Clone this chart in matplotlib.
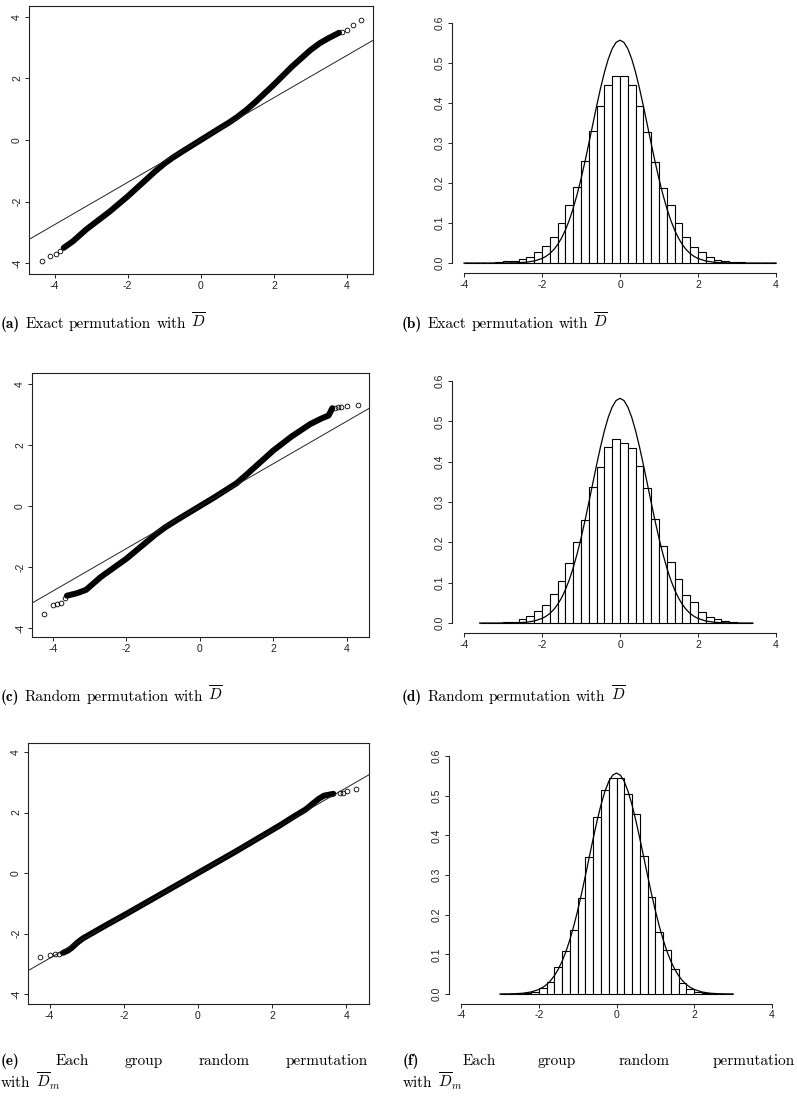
import matplotlib
matplotlib.use('Agg')
import matplotlib.pyplot as plt
import numpy as np
from matplotlib.font_manager import FontProperties

# --- R 스타일 기본 설정 ---
plt.rcParams['axes.unicode_minus'] = False
plt.rcParams['mathtext.fontset'] = 'cm'
plt.rcParams['font.family'] = ['Liberation Sans', 'DejaVu Sans']

W, H = 797, 1098

# --- 1. QQ plot 데이터 ---
# (a) exact permutation
qa_x = [-3.75, -3.5, -3.13, -2.5, -2.0, -1.5, -1.25, -1.0, -0.75, -0.5, 0.0,
        0.5, 0.75, 1.0, 1.25, 1.5, 2.0, 2.5, 3.0, 3.25, 3.5, 3.78]
qa_y = [-3.50, -3.29, -2.90, -2.33, -1.83, -1.29, -1.02, -0.77, -0.56, -0.37, 0.0,
        0.37, 0.55, 0.75, 0.98, 1.24, 1.80, 2.39, 2.92, 3.14, 3.31, 3.48]
qa_tail_x = [-4.35, -4.12, -3.97, -3.84, 3.87, 4.0, 4.16, 4.39]
qa_tail_y = [-3.94, -3.77, -3.69, -3.59, 3.52, 3.57, 3.74, 3.88]
qa_slope = 0.687

# (c) random permutation
qc_x = [-3.62, -3.35, -3.1, -2.9, -2.7, -2.0, -1.5, -1.2, -0.95, -0.7, -0.4, 0.0,
        0.4, 0.7, 1.0, 1.25, 1.5, 2.0, 2.5, 3.0, 3.3, 3.5, 3.56, 3.6]
qc_y = [-2.93, -2.85, -2.74, -2.53, -2.32, -1.72, -1.22, -0.92, -0.70, -0.51, -0.29, 0.0,
        0.29, 0.52, 0.75, 1.01, 1.28, 1.82, 2.28, 2.68, 2.86, 2.96, 3.10, 3.20]
qc_tail_x = [-4.24, -4.0, -3.88, -3.77, -3.68, 3.68, 3.76, 3.84, 4.0, 4.3]
qc_tail_y = [-3.54, -3.22, -3.19, -3.17, -3.0, 3.21, 3.23, 3.24, 3.27, 3.31]
qc_slope = 0.694

# (e) each group random permutation
qe_x = [-3.64, -3.5, -3.4, -3.25, -3.1, -2.5, -2.0, -1.0, 0.0, 1.0, 1.8, 2.2,
        2.6, 2.9, 3.1, 3.25, 3.4, 3.65]
qe_y = [-2.64, -2.56, -2.47, -2.30, -2.16, -1.74, -1.40, -0.70, 0.0, 0.70, 1.28, 1.57,
        1.88, 2.10, 2.30, 2.45, 2.56, 2.62]
qe_tail_x = [-4.25, -3.98, -3.86, -3.74, 3.82, 3.92, 4.03, 4.27]
qe_tail_y = [-2.79, -2.71, -2.69, -2.67, 2.64, 2.66, 2.70, 2.78]
qe_slope = 0.705

# --- 2. 히스토그램 데이터 (bin 폭 0.2) ---
bin_width = 0.2
hb_start = -4.0
hb_heights = [0.0005, 0.0005, 0.001, 0.001, 0.002, 0.004, 0.006, 0.010, 0.015, 0.027,
              0.042, 0.065, 0.100, 0.144, 0.190, 0.254, 0.330, 0.393, 0.445, 0.468,
              0.468, 0.445, 0.393, 0.328, 0.253, 0.188, 0.144, 0.100, 0.064, 0.041,
              0.027, 0.015, 0.008, 0.005, 0.003, 0.002, 0.001, 0.001, 0.0005, 0.0005]
hd_start = -3.6
hd_heights = [0.001, 0.001, 0.001, 0.002, 0.003, 0.010, 0.017, 0.031, 0.045, 0.071,
              0.105, 0.148, 0.200, 0.256, 0.338, 0.387, 0.437, 0.455,
              0.447, 0.435, 0.390, 0.334, 0.259, 0.190, 0.152, 0.110, 0.069, 0.051,
              0.028, 0.014, 0.009, 0.004, 0.002, 0.001, 0.001]
hf_start = -3.0
hf_heights = [0.0005, 0.001, 0.001, 0.002, 0.006, 0.014, 0.031, 0.067, 0.108, 0.161,
              0.243, 0.346, 0.447, 0.514, 0.544, 0.545, 0.504, 0.454, 0.349, 0.245,
              0.157, 0.111, 0.064, 0.027, 0.013, 0.006, 0.002, 0.001, 0.001, 0.0005]

# 정규분포 곡선 (그림에서 읽은 점)
curve_x = [-4.0, -3.6, -3.2, -3.0, -2.8, -2.6, -2.4, -2.2, -2.0, -1.9, -1.8, -1.7, -1.6, -1.5,
           -1.4, -1.3, -1.2, -1.1, -1.0, -0.9, -0.8, -0.7, -0.6, -0.5, -0.4, -0.3, -0.2, -0.1,
           0.0, 0.1, 0.2, 0.3, 0.4, 0.5, 0.6, 0.7, 0.8, 0.9, 1.0, 1.1, 1.2, 1.3, 1.4, 1.5,
           1.6, 1.7, 1.8, 1.9, 2.0, 2.2, 2.4, 2.6, 2.8, 3.0, 3.2, 3.4, 3.6, 4.0]
curve_y = [0.0, 0.0, 0.0, 0.0001, 0.0003, 0.0008, 0.0020, 0.0050, 0.0113, 0.0165, 0.0236,
           0.0332, 0.0459, 0.0621, 0.0824, 0.1072, 0.1368, 0.1712, 0.2100, 0.2528, 0.2984,
           0.3454, 0.3921, 0.4365, 0.4765, 0.5102, 0.5357, 0.5516, 0.557, 0.5516, 0.5357,
           0.5102, 0.4765, 0.4365, 0.3921, 0.3454, 0.2984, 0.2528, 0.2100, 0.1712, 0.1368,
           0.1072, 0.0824, 0.0621, 0.0459, 0.0332, 0.0236, 0.0165, 0.0113, 0.0050, 0.0020,
           0.0008, 0.0003, 0.0001, 0.0, 0.0, 0.0, 0.0]

xticks = [-4, -2, 0, 2, 4]
qq_yticks = [-4, -2, 0, 2, 4]
hist_yticks = [0.0, 0.1, 0.2, 0.3, 0.4, 0.5, 0.6]

fig = plt.figure(figsize=(W / 100, H / 100), dpi=100)


def px_axes(l, t, r, b):
    return fig.add_axes([l / W, 1 - b / H, (r - l) / W, (b - t) / H])


def style_ticks(ax):
    ax.tick_params(direction='out', length=3, width=0.7, labelsize=7.5,
                   colors='#222222', pad=2)
    ax.tick_params(axis='y', labelrotation=90)
    for lab in ax.get_yticklabels():
        lab.set_va('center')


def qq_panel(box, xlim, ylim, qx, qy, tx, ty, slope):
    ax = px_axes(*box)
    ax.plot(qx, qy, color='black', lw=4.3, solid_capstyle='round',
            solid_joinstyle='round')
    ax.plot(tx, ty, 'o', mfc='none', mec='black', ms=3.4, mew=0.6)
    ax.axline((0, 0), slope=slope, color='#222222', lw=0.7)
    ax.set_xlim(*xlim)
    ax.set_ylim(*ylim)
    ax.set_xticks(xticks)
    ax.set_yticks(qq_yticks)
    ax.set_xticklabels([str(v) for v in xticks])
    ax.set_yticklabels([str(v) for v in qq_yticks])
    for sp in ax.spines.values():
        sp.set_linewidth(0.8)
        sp.set_color('#222222')
    style_ticks(ax)
    return ax


def hist_panel(box, start, heights):
    ax = px_axes(*box)
    edges = start + bin_width * np.arange(len(heights))
    ax.bar(edges, heights, width=bin_width, align='edge', color='white',
           edgecolor='black', linewidth=0.8)
    lo, hi = start, start + bin_width * len(heights)
    cx = [x for x in curve_x if lo - 1e-9 <= x <= hi + 1e-9]
    cy = [y for x, y in zip(curve_x, curve_y) if lo - 1e-9 <= x <= hi + 1e-9]
    ax.plot(cx, cy, color='black', lw=0.9)
    ax.set_xlim(-4.32, 4.32)
    ax.set_ylim(-0.024, 0.624)
    ax.set_xticks(xticks)
    ax.set_xticklabels([str(v) for v in xticks])
    ax.set_yticks(hist_yticks)
    ax.set_yticklabels(['%.1f' % v for v in hist_yticks])
    ax.spines['top'].set_visible(False)
    ax.spines['right'].set_visible(False)
    ax.spines['left'].set_bounds(0, 0.6)
    ax.spines['bottom'].set_bounds(-4, 4)
    for sp in ('left', 'bottom'):
        ax.spines[sp].set_linewidth(0.8)
        ax.spines[sp].set_color('#222222')
    style_ticks(ax)
    return ax


qq_panel((29, 6, 373, 274), (-4.70, 4.71), (-4.35, 4.35), qa_x, qa_y, qa_tail_x, qa_tail_y, qa_slope)
qq_panel((32, 373, 369, 637), (-4.57, 4.60), (-4.28, 4.35), qc_x, qc_y, qc_tail_x, qc_tail_y, qc_slope)
qq_panel((28, 743, 369, 1004), (-4.58, 4.61), (-4.33, 4.30), qe_x, qe_y, qe_tail_x, qe_tail_y, qe_slope)

hist_panel((451.5, 13.4, 788.5, 272.6), hb_start, hb_heights)
hist_panel((451.5, 371.3, 788.5, 632.7), hd_start, hd_heights)
hist_panel((448.6, 746.5, 784.4, 1003.5), hf_start, hf_heights)

# --- 3. 캡션 (LaTeX subcaption 모양) ---
cap_size = 11
reg = FontProperties(family='cmr10', size=cap_size)
bold = FontProperties(family='cmb10', size=cap_size)
renderer = fig.canvas.get_renderer()


def caption(x0, base, pieces, x1=None):
    texts = [fig.text(0, 0, s, fontproperties=fp, va='baseline', ha='left')
             for s, fp in pieces]
    widths = [t.get_window_extent(renderer).width for t in texts]
    if x1 is None:
        gap = 0.333 * cap_size * 100 / 72
    else:
        gap = (x1 - x0 - sum(widths)) / (len(widths) - 1)
    x = x0
    for t, w in zip(texts, widths):
        t.set_position((x / W, 1 - base / H))
        x += w + gap


def simple(label, rest):
    return [(label, bold)] + [(w, reg) for w in rest.split(' ')]


caption(1, 328, simple('(a)', r'Exact permutation with $\overline{D}$'))
caption(402, 328, simple('(b)', r'Exact permutation with $\overline{D}$'))
caption(1, 701, simple('(c)', r'Random permutation with $\overline{D}$'))
caption(402, 701, simple('(d)', r'Random permutation with $\overline{D}$'))
caption(1, 1065, simple('(e)', 'Each group random permutation'), x1=368)
caption(1, 1087, [('with', reg), (r'$\overline{D}_m$', reg)])
caption(403, 1065, simple('(f)', 'Each group random permutation'), x1=795)
caption(403, 1087, [('with', reg), (r'$\overline{D}_m$', reg)])

fig.savefig('out.png', dpi=100)
